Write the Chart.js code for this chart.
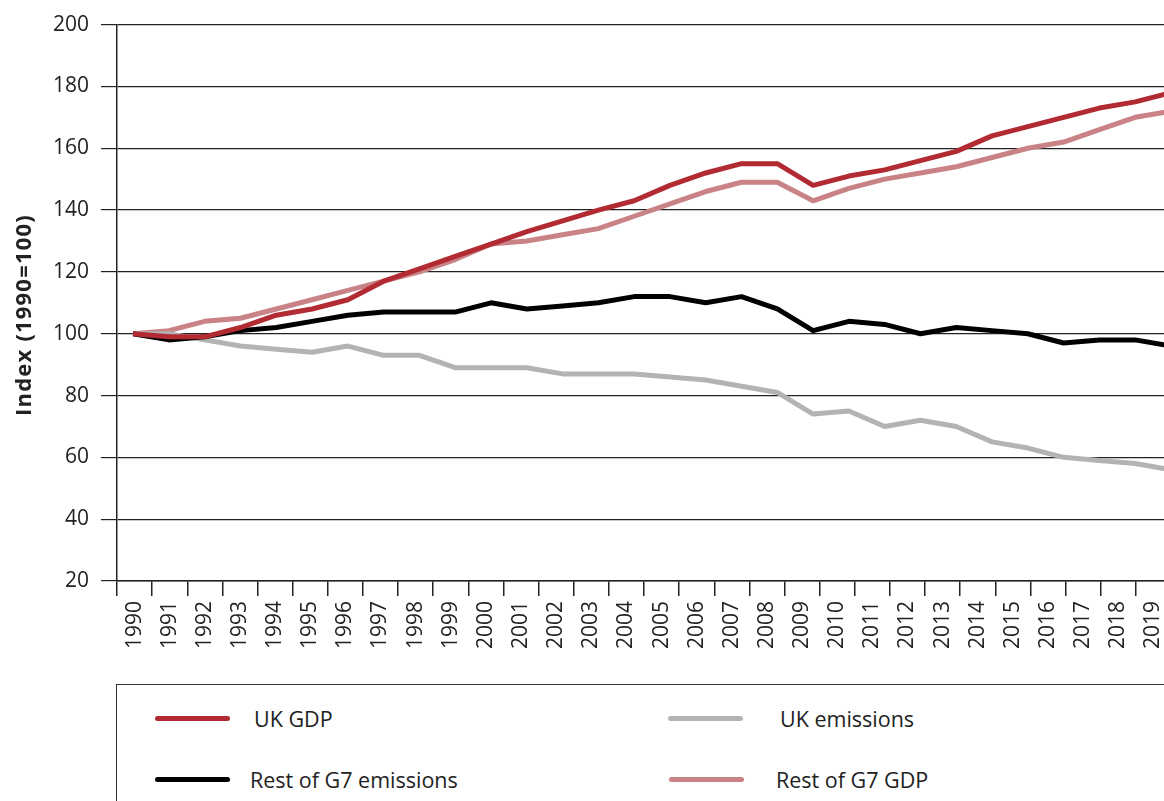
<!DOCTYPE html>
<html>
<head>
<meta charset="utf-8">
<script src="https://cdn.jsdelivr.net/npm/chart.js@4"></script>
<style>
  html, body { margin: 0; padding: 0; background: #fff; overflow: hidden; }
  #wrap { position: relative; width: 1185px; height: 801px; }
  #chart { position: absolute; left: 0; top: 0; }
  #legend {
    position: absolute; left: 116px; top: 684px; width: 1100px; height: 130px;
    border-top: 1.5px solid #333; border-left: 1.5px solid #333;
    font-family: "Open Sans", sans-serif; font-size: 21.5px; color: #222;
  }
  .item { position: absolute; display: flex; align-items: center; height: 30px; }
  .swatch { width: 75px; height: 5px; border-radius: 3px; }
</style>
</head>
<body>
<div id="wrap">
  <canvas id="chart" width="1185" height="680"></canvas>
  <div id="legend"></div>
</div>
<script>
// years shown on the axis
const years = [1990, 1991, 1992, 1993, 1994, 1995, 1996, 1997, 1998, 1999,
               2000, 2001, 2002, 2003, 2004, 2005, 2006, 2007, 2008, 2009,
               2010, 2011, 2012, 2013, 2014, 2015, 2016, 2017, 2018, 2019];

// index values, 1990 = 100
const ukGdp = [100, 99, 99, 102, 106, 108, 111, 117, 121, 125,
               129, 133, 136.5, 140, 143, 148, 152, 155, 155, 148,
               151, 153, 156, 159, 164, 167, 170, 173, 175, 178];
const ukEmissions = [100, 100, 98, 96, 95, 94, 96, 93, 93, 89,
                     89, 89, 87, 87, 87, 86, 85, 83, 81, 74,
                     75, 70, 72, 70, 65, 63, 60, 59, 58, 56];
const g7Emissions = [100, 98, 99, 101, 102, 104, 106, 107, 107, 107,
                     110, 108, 109, 110, 112, 112, 110, 112, 108, 101,
                     104, 103, 100, 102, 101, 100, 97, 98, 98, 96];
const g7Gdp = [100, 101, 104, 105, 108, 111, 114, 117, 120, 124,
               129, 130, 132, 134, 138, 142, 146, 149, 149, 143,
               147, 150, 152, 154, 157, 160, 162, 166, 170, 172];

const yTicks = [20, 40, 60, 80, 100, 120, 140, 160, 180, 200];

const seriesNames = ['UK GDP', 'UK emissions', 'Rest of G7 emissions', 'Rest of G7 GDP'];
const seriesColors = ['#b22a32', '#b3b3b3', '#000000', '#c98286'];

const FONT = '"Open Sans", sans-serif';
const INK = '#222';

// pair values with years for the hidden linear axis
const toPoints = vals => vals.map((v, i) => ({ x: years[i], y: v }));

function makeSet(idx, vals) {
    return {
        label: seriesNames[idx],
        data: toPoints(vals),
        borderColor: seriesColors[idx],
        borderWidth: 5,
        borderJoinStyle: 'round',
        pointRadius: 0,
        tension: 0,
        xAxisID: 'xData'
    };
}

// y axis title drawn by hand so it sits where the original has it
const yTitle = {
    id: 'yTitle',
    afterDraw(chart) {
        const { ctx } = chart;
        ctx.save();
        ctx.translate(25, 315);
        ctx.rotate(-Math.PI / 2);
        ctx.font = 'bold 22px ' + FONT;
        ctx.letterSpacing = '1.2px';
        ctx.fillStyle = INK;
        ctx.textAlign = 'center';
        ctx.textBaseline = 'middle';
        ctx.fillText('Index (1990=100)', 0, 0);
        ctx.restore();
    }
};

new Chart(document.getElementById('chart'), {
    type: 'line',
    data: {
        labels: years.map(String),
        datasets: [
            makeSet(0, ukGdp),
            makeSet(2, g7Emissions),
            makeSet(1, ukEmissions),
            makeSet(3, g7Gdp)
        ]
    },
    options: {
        responsive: false,
        animation: false,
        layout: { padding: { top: 24, right: 14, left: 0, bottom: 0 } },
        plugins: { legend: { display: false }, tooltip: { enabled: false } },
        scales: {
            x: {
                type: 'category',
                offset: true,
                grid: { offset: true, drawOnChartArea: false, color: INK, tickLength: 15, lineWidth: 1.5 },
                border: { color: INK, width: 1.5 },
                ticks: { color: INK, font: { family: FONT, size: 21 }, minRotation: 90, maxRotation: 90, padding: 5, autoSkip: false },
                afterFit(scale) { scale.height = 99; }
            },
            xData: {
                type: 'linear',
                display: false,
                min: 1989.55,
                max: 2019
            },
            y: {
                min: 20,
                max: 200,
                afterBuildTicks(scale) { scale.ticks = yTicks.map(v => ({ value: v })); },
                grid: { color: INK, lineWidth: 1.2, tickLength: 16 },
                border: { color: INK, width: 1.5 },
                ticks: { color: INK, font: { family: FONT, size: 21 }, padding: 12 },
                afterFit(scale) { scale.width = 117; }
            }
        }
    },
    plugins: [yTitle]
});

// legend box, two columns by two rows
const legendEl = document.getElementById('legend');
const legendSlots = [
    { idx: 0, left: 38, top: 18, gap: 24 },
    { idx: 1, left: 551, top: 18, gap: 37 },
    { idx: 2, left: 38, top: 79, gap: 20 },
    { idx: 3, left: 552, top: 79, gap: 32 }
];
legendSlots.forEach(s => {
    const item = document.createElement('div');
    item.className = 'item';
    item.style.left = s.left + 'px';
    item.style.top = s.top + 'px';
    const sw = document.createElement('div');
    sw.className = 'swatch';
    sw.style.background = seriesColors[s.idx];
    const txt = document.createElement('span');
    txt.textContent = seriesNames[s.idx];
    txt.style.marginLeft = s.gap + 'px';
    item.appendChild(sw);
    item.appendChild(txt);
    legendEl.appendChild(item);
});
</script>
</body>
</html>
